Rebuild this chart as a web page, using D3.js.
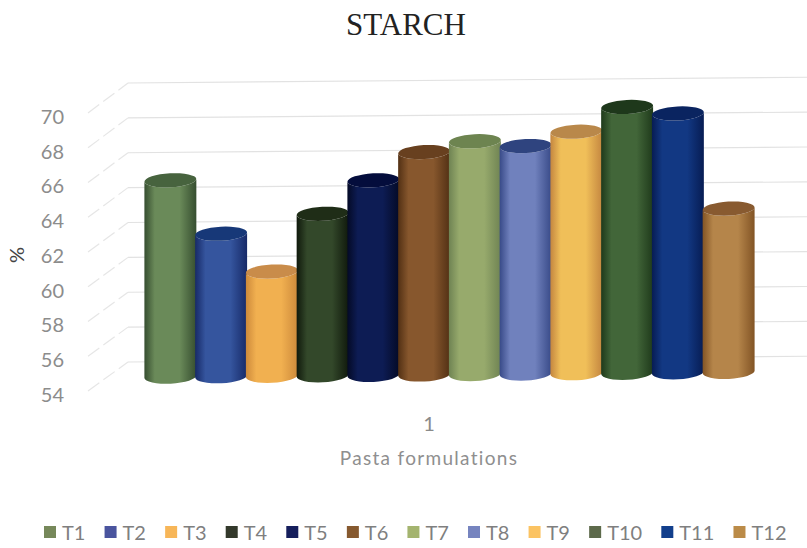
<!DOCTYPE html>
<html>
<head>
<meta charset="utf-8">
<script src="https://cdn.jsdelivr.net/npm/d3@7"></script>
<style>
  html, body { margin: 0; padding: 0; background: #fff; }
  svg { display: block; }
</style>
</head>
<body>
<svg id="chart" width="807" height="548"></svg>
<script>
const formulations = ["T1","T2","T3","T4","T5","T6","T7","T8","T9","T10","T11","T12"];
const starch = [65.3, 62.2, 60.0, 63.3, 65.2, 66.8, 67.4, 67.1, 67.9, 69.3, 68.9, 63.4];
const yTicks = [54, 56, 58, 60, 62, 64, 66, 68, 70];
const sideCentre = ["#6a8a59","#35559e","#f1b050","#33482a","#0d1c54","#87572d","#97aa6c","#7081bd","#f0bf59","#426639","#123883","#b5854a"];
const sideEdge   = ["#364e30","#172a68","#cd8a3b","#10190c","#040a26","#523014","#6f8353","#384a88","#c48640","#1f3a1b","#071c53","#825425"];
const capFill    = ["#47633e","#173878","#c98c4a","#1f2d17","#040d3c","#68401f","#6d8450","#2f447f","#b9884a","#1e381b","#0a2460","#885a30"];
const legendFill = ["#76885a","#4a549e","#f7b658","#33392b","#151e5c","#86592f","#a4b46f","#7684bf","#fbc362","#5d6a4b","#123f8c","#bb8b48"];

const svg = d3.select("#chart");
const floorSlope = -0.0085;   // the back wall runs slightly uphill to the right
const wallLeft = 128, wallRight = 807, frontLeft = 88;

const yFront = d3.scaleLinear().domain([54, 70]).range([393, 115]);
const yBack  = d3.scaleLinear().domain([54, 70]).range([362, 83]);
const yMid   = d3.scaleLinear().domain([54, 70]).range([377, 99]);
const x = d3.scaleBand().domain(formulations).range([145, 754]);
const drift = px => (px - wallLeft) * floorSlope;

// Title and axis captions
svg.append("text").attr("x", 406).attr("y", 35).attr("text-anchor", "middle")
  .attr("font-family", "Liberation Serif").attr("font-size", 31).attr("fill", "#222")
  .text("STARCH");
svg.append("text").attr("transform", "translate(24,255) rotate(-90)").attr("text-anchor", "middle")
  .attr("font-family", "Lato").attr("font-size", 20).attr("fill", "#444").text("%");
svg.append("text").attr("x", 429).attr("y", 431).attr("text-anchor", "middle")
  .attr("font-family", "Lato").attr("font-size", 20).attr("fill", "#8a8a8a").text("1");
svg.append("text").attr("x", 429).attr("y", 465).attr("text-anchor", "middle")
  .attr("font-family", "Lato").attr("font-size", 19).attr("letter-spacing", 1.3)
  .attr("fill", "#8f8f8f").text("Pasta formulations");

// Wall gridlines and their slanted runs along the side wall
const grid = svg.append("g").attr("fill", "none");
grid.selectAll("line.wall").data(yTicks).join("line").attr("class", "wall")
  .attr("x1", wallLeft).attr("x2", wallRight)
  .attr("y1", d => yBack(d))
  .attr("y2", d => yBack(d) + drift(wallRight))
  .attr("stroke", "#e2e2e2").attr("stroke-width", 1.2);
grid.selectAll("line.side").data(yTicks).join("line").attr("class", "side")
  .attr("x1", frontLeft).attr("x2", wallLeft)
  .attr("y1", d => yFront(d) - 2)
  .attr("y2", d => yBack(d))
  .attr("stroke", "#e6e6e6").attr("stroke-width", 1.2).attr("stroke-dasharray", "14 5");

// Value axis, placed on the front edge of the side wall
const axis = svg.append("g").attr("transform", "translate(64,2)")
  .call(d3.axisLeft(yFront).tickValues(yTicks).tickSize(0).tickPadding(0));
axis.select(".domain").remove();
axis.selectAll("text").attr("font-family", "Lato").attr("font-size", 20).attr("fill", "#8c8c8c");

// Cylinders
const defs = svg.append("defs");
formulations.forEach((name, i) => {
  const g = defs.append("linearGradient").attr("id", "side" + i)
    .attr("x1", 0).attr("x2", 1).attr("y1", 0).attr("y2", 0);
  g.append("stop").attr("offset", 0).attr("stop-color", sideEdge[i]);
  g.append("stop").attr("offset", 0.2).attr("stop-color", sideCentre[i]);
  g.append("stop").attr("offset", 0.68).attr("stop-color", sideCentre[i]);
  g.append("stop").attr("offset", 1).attr("stop-color", sideEdge[i]);
});

const ry = 7, tiltDeg = -3;
const rx = x.bandwidth() / 2 + 0.6;
const tilt = rx * Math.sin(-tiltDeg * Math.PI / 180);

const bars = svg.append("g").selectAll("g").data(formulations).join("g");
bars.append("path")
  .attr("fill", (d, i) => `url(#side${i})`)
  .attr("d", (d, i) => {
    const cx = x(d) + x.bandwidth() / 2;
    const top = yMid(starch[i]) + drift(cx);
    const base = yMid(54) + drift(cx);
    return `M${cx - rx},${top + tilt} L${cx - rx},${base + tilt}` +
           ` A${rx},${ry} ${tiltDeg} 0 0 ${cx + rx},${base - tilt}` +
           ` L${cx + rx},${top - tilt}` +
           ` A${rx},${ry} ${tiltDeg} 0 1 ${cx - rx},${top + tilt} Z`;
  });
bars.append("ellipse")
  .attr("fill", (d, i) => capFill[i])
  .attr("rx", rx).attr("ry", ry)
  .attr("transform", (d, i) => {
    const cx = x(d) + x.bandwidth() / 2;
    return `translate(${cx},${yMid(starch[i]) + drift(cx)}) rotate(${tiltDeg})`;
  });

// Legend laid out from the measured label widths
const legend = svg.append("g");
let cursor = 44;
formulations.forEach((name, i) => {
  legend.append("rect").attr("x", cursor).attr("y", 526).attr("width", 12).attr("height", 12)
    .attr("fill", legendFill[i]);
  const label = legend.append("text").attr("x", cursor + 18).attr("y", 540)
    .attr("font-family", "Lato").attr("font-size", 20).attr("fill", "#7f7f7f").text(name);
  cursor += 18 + label.node().getComputedTextLength() + 19.15;
});
</script>
</body>
</html>
